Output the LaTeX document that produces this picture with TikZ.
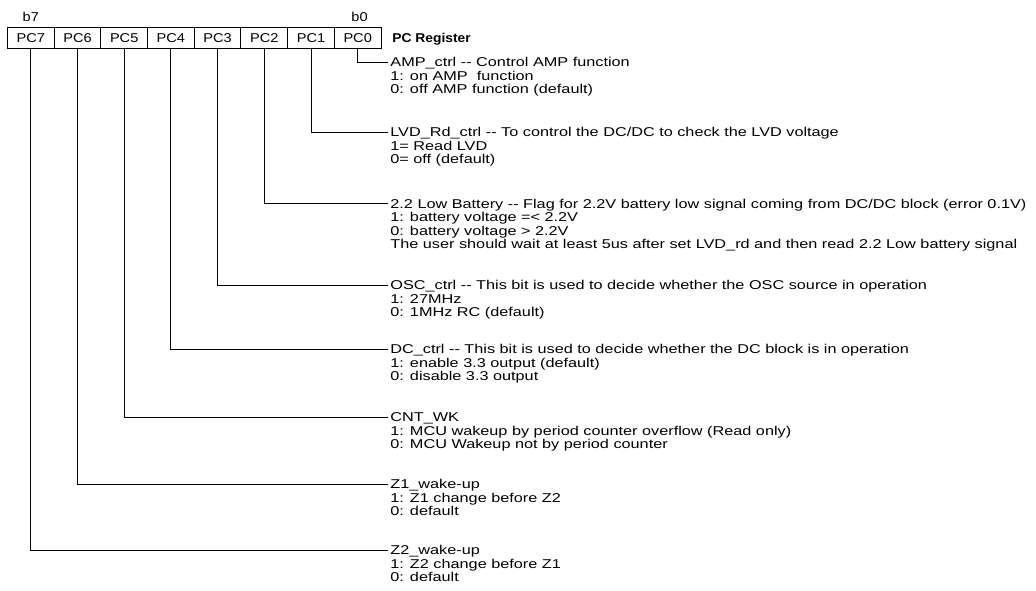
\documentclass[tikz,border=0pt]{standalone}
\usepackage{fontspec}
\setmainfont{Liberation Sans}[FakeStretch=1.27]
\newfontfamily\cellfamily{Liberation Sans}[FakeStretch=1.14]
\newfontfamily\titlefamily{Liberation Sans}[FakeStretch=1.08]
\usetikzlibrary{calc}
\newcommand\regfont{\fontsize{6.4pt}{6.75pt}\selectfont}
\newcommand\lns[1]{\begin{tabular}[t]{@{}l@{}}#1\end{tabular}}
\tikzset{
  cell/.style={draw, rectangle, line width=0.5pt, minimum width=23.35pt, minimum height=10.25pt, inner sep=0pt, font=\cellfamily\regfont},
  desc/.style={anchor=base west, inner sep=0pt, font=\regfont},
  bitlbl/.style={anchor=base, inner sep=0pt, font=\cellfamily\regfont},
  wire/.style={line width=0.5pt}
}
\begin{document}
\begin{tikzpicture}[x=0.5pt,y=-0.5pt]
\useasboundingbox (0,0) rectangle (1036,590);
% register cells
\node[cell] (pc7) at (30.85,37.75) {PC7};
\node[cell] (pc6) at (77.54,37.75) {PC6};
\node[cell] (pc5) at (124.2,37.75) {PC5};
\node[cell] (pc4) at (170.9,37.75) {PC4};
\node[cell] (pc3) at (217.6,37.75) {PC3};
\node[cell] (pc2) at (264.3,37.75) {PC2};
\node[cell] (pc1) at (311.0,37.75) {PC1};
\node[cell] (pc0) at (357.7,37.75) {PC0};
\node[bitlbl] (b7) at (30.85,21) {b7};
\node[bitlbl] (b0) at (359.5,21) {b0};
\node[desc, font=\titlefamily\regfont] (title) at (392,42.3) {\bfseries PC Register};
% descriptions
\node[desc] (amp) at (390,66.6) {\lns{AMP\_ctrl -{}- Control AMP function\\1: on AMP\ \ function\\0: off AMP function (default)}};
\node[desc] (lvd) at (390,136.6) {\lns{LVD\_Rd\_ctrl -{}- To control the DC/DC to check the LVD voltage\\1= Read LVD\\0= off (default)}};
\node[desc] (low) at (390,208.1) {\lns{2.2 Low Battery -{}- Flag for 2.2V battery low signal coming from DC/DC block (error 0.1V)\\1: battery voltage =< 2.2V\\0: battery voltage > 2.2V\\The user should wait at least 5us after set LVD\_rd and then read 2.2 Low battery signal}};
\node[desc] (osc) at (390,289.6) {\lns{OSC\_ctrl -{}- This bit is used to decide whether the OSC source in operation\\1: 27MHz\\0: 1MHz RC (default)}};
\node[desc] (dc) at (390,353.6) {\lns{DC\_ctrl -{}- This bit is used to decide whether the DC block is in operation\\1: enable 3.3 output (default)\\0: disable 3.3 output}};
\node[desc] (cnt) at (390,421.6) {\lns{CNT\_WK\\1: MCU wakeup by period counter overflow (Read only)\\0: MCU Wakeup not by period counter}};
\node[desc] (zone) at (390,488.6) {\lns{Z1\_wake-up\\1: Z1 change before Z2\\0: default}};
\node[desc] (ztwo) at (390,554.6) {\lns{Z2\_wake-up\\1: Z2 change before Z1\\0: default}};
% connectors
\draw[wire] (pc0.south) |- ($(amp.base west)+(-2.5,-4.6)$);
\draw[wire] (pc1.south) |- ($(lvd.base west)+(-2.5,-4.6)$);
\draw[wire] (pc2.south) |- ($(low.base west)+(-2.5,-4.6)$);
\draw[wire] (pc3.south) |- ($(osc.base west)+(-2.5,-4.6)$);
\draw[wire] (pc4.south) |- ($(dc.base west)+(-2.5,-4.6)$);
\draw[wire] (pc5.south) |- ($(cnt.base west)+(-2.5,-4.6)$);
\draw[wire] (pc6.south) |- ($(zone.base west)+(-2.5,-4.6)$);
\draw[wire] (pc7.south) |- ($(ztwo.base west)+(-2.5,-4.6)$);
\end{tikzpicture}
\end{document}
